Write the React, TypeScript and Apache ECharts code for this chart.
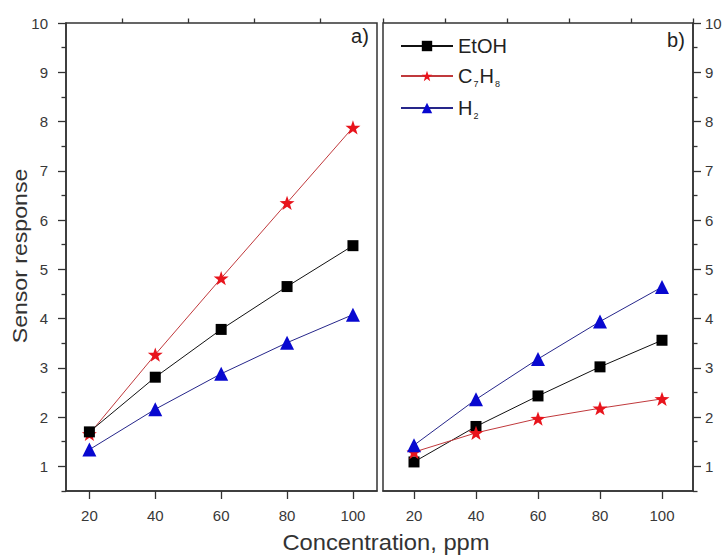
import React, { useEffect, useRef } from "react";
import * as echarts from "echarts";

const concentration = [20, 40, 60, 80, 100];
const aEtOH = [1.7, 2.81, 3.78, 4.65, 5.48];
const aC7H8 = [1.66, 3.27, 4.82, 6.35, 7.88];
const aH2 = [1.34, 2.16, 2.88, 3.51, 4.08];
const bEtOH = [1.09, 1.81, 2.43, 3.02, 3.56];
const bC7H8 = [1.29, 1.68, 1.97, 2.18, 2.37];
const bH2 = [1.43, 2.36, 3.18, 3.94, 4.64];
const xMajor = [20, 40, 60, 80, 100];
const xMinorA = [30, 50, 70, 90];
const xMinorB = [10, 30, 50, 70, 90, 110];
const yMajor = [1, 2, 3, 4, 5, 6, 7, 8, 9, 10];
const yMinor = [0.5, 1.5, 2.5, 3.5, 4.5, 5.5, 6.5, 7.5, 8.5, 9.5];

const FONT = "'Liberation Sans', Arial, sans-serif";
const STAR =
  "path://M50 0 L61.76 33.82 L97.55 34.55 L69.02 56.18 L79.39 90.45 L50 70 L20.61 90.45 L30.98 56.18 L2.45 34.55 L38.24 33.82 Z";
const AXIS_COLOR = "#333";

function pairs(ys: number[]) {
  return concentration.map((x, i) => [x, ys[i]]);
}

export default function App() {
  const ref = useRef<HTMLDivElement>(null);
  useEffect(() => {
    document.body.style.margin = "0";
    const chart = echarts.init(ref.current!, null, { renderer: "svg" });
    const mainX = (grid: number, min: number, max: number) => ({
      type: "value",
      gridIndex: grid,
      min,
      max,
      axisLine: { show: true, lineStyle: { color: AXIS_COLOR, width: 1.5 } },
      axisTick: { show: true, customValues: xMajor, length: 8, lineStyle: { color: AXIS_COLOR, width: 1.3 } },
      axisLabel: { customValues: xMajor, margin: 17, fontSize: 15, color: "#383838", fontFamily: FONT },
      splitLine: { show: false },
    });
    const minorX = (grid: number, min: number, max: number, vals: number[]) => ({
      type: "value",
      gridIndex: grid,
      min,
      max,
      axisLine: { show: false },
      axisTick: { show: true, customValues: vals, length: 4.5, lineStyle: { color: AXIS_COLOR, width: 1.3 } },
      axisLabel: { show: false },
      splitLine: { show: false },
    });
    const mainY = (grid: number, position: string, margin: number) => ({
      type: "value",
      gridIndex: grid,
      position,
      min: 0.5,
      max: 10,
      axisLine: { show: true, lineStyle: { color: AXIS_COLOR, width: 1.5 } },
      axisTick: { show: true, customValues: yMajor, length: 8, lineStyle: { color: AXIS_COLOR, width: 1.3 } },
      axisLabel: { customValues: yMajor, margin, fontSize: 15, color: "#383838", fontFamily: FONT },
      splitLine: { show: false },
    });
    const minorY = (grid: number, position: string) => ({
      type: "value",
      gridIndex: grid,
      position,
      min: 0.5,
      max: 10,
      axisLine: { show: false },
      axisTick: { show: true, customValues: yMinor, length: 4.5, lineStyle: { color: AXIS_COLOR, width: 1.3 } },
      axisLabel: { show: false },
      splitLine: { show: false },
    });
    const mk = (name: string, ys: number[], xi: number, yi: number, z: number) => {
      const base: any = {
        name,
        type: "line",
        xAxisIndex: xi,
        yAxisIndex: yi,
        data: pairs(ys),
        z,
        lineStyle: { width: 1 },
      };
      if (name === "EtOH") {
        base.symbol = "rect";
        base.symbolSize = 11;
        base.itemStyle = { color: "#000" };
        base.lineStyle = { width: 1, color: "#111" };
      } else if (name === "C7H8") {
        base.symbol = STAR;
        base.symbolKeepAspect = true;
        base.symbolSize = 15;
        base.itemStyle = { color: "#e8141c" };
        base.lineStyle = { width: 1, color: "#c0393c" };
      } else {
        base.symbol = "triangle";
        base.symbolSize = 14;
        base.itemStyle = { color: "#0808d0" };
        base.lineStyle = { width: 1, color: "#26268a" };
      }
      return base;
    };
    const option: any = {
      animation: false,
      grid: [
        { left: 66, top: 23, width: 311, height: 468, show: true, borderColor: AXIS_COLOR, borderWidth: 1.5 },
        { left: 383, top: 23, width: 310, height: 468, show: true, borderColor: AXIS_COLOR, borderWidth: 1.5 },
      ],
      xAxis: [
        mainX(0, 12.9, 107.3),
        minorX(0, 12.9, 107.3, xMinorA),
        mainX(1, 10, 110),
        minorX(1, 10, 110, xMinorB),
      ],
      yAxis: [mainY(0, "left", 18), minorY(0, "left"), mainY(1, "right", 12), minorY(1, "right")],
      legend: {
        show: true,
        orient: "vertical",
        left: 395,
        top: 31,
        itemWidth: 52,
        itemHeight: 13,
        itemGap: 10,
        data: ["EtOH", "C7H8", "H2"],
        formatter: (name: string) => {
          if (name === "C7H8") return "{n|C}{s|7}{n|H}{s|8}";
          if (name === "H2") return "{n|H}{s|2}";
          return "{n|" + name + "}";
        },
        textStyle: {
          fontFamily: FONT,
          rich: {
            n: { fontSize: 20, fontFamily: FONT, color: "#222", lineHeight: 24 },
            s: { fontSize: 9, fontFamily: FONT, color: "#222", lineHeight: 4, verticalAlign: "bottom", padding: [0, 1, 0, 1] },
          },
        },
      },
      graphic: [
        {
          type: "text",
          x: 20,
          y: 256,
          rotation: Math.PI / 2,
          scaleX: 1.1,
          style: { text: "Sensor response", fontSize: 21, fontFamily: FONT, fill: "#333", textAlign: "center", textVerticalAlign: "middle" },
        },
        {
          type: "text",
          x: 386,
          y: 542,
          scaleX: 1.08,
          style: { text: "Concentration, ppm", fontSize: 22, fontFamily: FONT, fill: "#333", textAlign: "center", textVerticalAlign: "middle" },
        },
        {
          type: "text",
          x: 360,
          y: 36,
          style: { text: "a)", fontSize: 20, fontFamily: FONT, fill: "#222", textAlign: "center", textVerticalAlign: "middle" },
        },
        {
          type: "text",
          x: 676,
          y: 40,
          style: { text: "b)", fontSize: 20, fontFamily: FONT, fill: "#222", textAlign: "center", textVerticalAlign: "middle" },
        },
      ],
      series: [
        mk("EtOH", aEtOH, 0, 0, 4),
        mk("C7H8", aC7H8, 0, 0, 3),
        mk("H2", aH2, 0, 0, 3),
        mk("EtOH", bEtOH, 2, 2, 3),
        mk("C7H8", bC7H8, 2, 2, 3),
        mk("H2", bH2, 2, 2, 3),
      ],
    };
    chart.setOption(option);
    return () => chart.dispose();
  }, []);
  return <div ref={ref} style={{ position: "fixed", left: 0, top: 0, width: 726, height: 556, background: "#fff" }} />;
}
